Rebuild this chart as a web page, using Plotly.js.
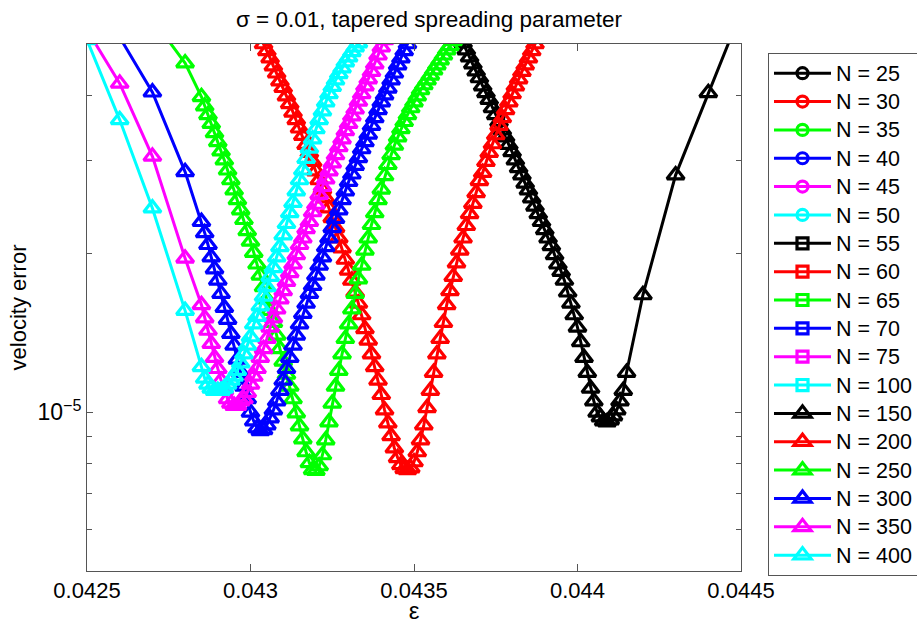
<!DOCTYPE html>
<html><head><meta charset="utf-8">
<script src="https://cdn.plot.ly/plotly-3.0.1.min.js"></script>
<style>html,body{margin:0;padding:0;background:#fff}#chart{width:917px;height:624px}</style>
</head><body><div id="chart"></div>
<script>
// epsilon sample grid (coarse + fine)
const epsGrid = [0.0425,0.0426,0.0427,0.0428,
0.04285,0.04286,0.04287,0.04288,0.04289,
0.0429,0.04291,0.04292,0.04293,0.04294,0.04295,0.04296,0.04297,0.04298,0.04299,
0.043,0.04301,0.04302,0.04303,0.04304,0.04305,0.04306,0.04307,0.04308,0.04309,
0.0431,0.04311,0.04312,0.04313,0.04314,0.04315,0.04316,0.04317,0.04318,0.04319,
0.0432,0.04321,0.04322,0.04323,0.04324,0.04325,0.04326,0.04327,0.04328,0.04329,
0.0433,0.04331,0.04332,0.04333,0.04334,0.04335,0.04336,0.04337,0.04338,0.04339,
0.0434,0.04341,0.04342,0.04343,0.04344,0.04345,0.04346,0.04347,0.04348,0.04349,
0.0435,0.04351,0.04352,0.04353,0.04354,0.04355,0.04356,0.04357,0.04358,0.04359,
0.0436,0.04361,0.04362,0.04363,0.04364,0.04365,0.04366,0.04367,0.04368,0.04369,
0.0437,0.04371,0.04372,0.04373,0.04374,0.04375,0.04376,0.04377,0.04378,0.04379,
0.0438,0.04381,0.04382,0.04383,0.04384,0.04385,0.04386,0.04387,0.04388,0.04389,
0.0439,0.04391,0.04392,0.04393,0.04394,0.04395,0.04396,0.04397,0.04398,0.04399,
0.044,0.04401,0.04402,0.04403,0.04404,0.04405,0.04406,0.04407,0.04408,0.04409,
0.0441,0.04411,0.04412,0.04413,0.04414,0.04415,
0.0442,0.0443,0.0444,0.0445];

const legendN = [25,30,35,40,45,50,55,60,65,70,75,100,150,200,250,300,350,400];
const seriesColors = ['#000000','#ff0000','#00ff00','#0000ff','#ff00ff','#00ffff'];

// N = 25 ... 100: no values inside the plotted window (legend only)
const errOffChart = [null];

// velocity error per N (first epsilon of each series given separately)
const start150 = 0.04364;
const err150 = [5.18e-5,5.02e-5,4.87e-5,4.72e-5,4.58e-5,4.44e-5,4.31e-5,4.16e-5,4.04e-5,3.92e-5,3.78e-5,3.67e-5,3.56e-5,3.43e-5,3.33e-5,3.22e-5,3.12e-5,3.01e-5,2.91e-5,2.82e-5,2.72e-5,
2.64e-5,2.55e-5,2.46e-5,2.38e-5,2.30e-5,2.22e-5,2.14e-5,2.07e-5,1.99e-5,1.91e-5,1.85e-5,1.78e-5,1.69e-5,1.61e-5,1.53e-5,1.45e-5,1.36e-5,1.27e-5,1.19e-5,1.11e-5,
1.05e-5,1.00e-5,0.979e-5,0.962e-5,0.958e-5,0.967e-5,0.984e-5,1.01e-5,1.05e-5,1.10e-5,1.19e-5,
1.67e-5,2.82e-5,4.04e-5,5.75e-5];

const start200 = 0.04303;
const err200 = [5.15e-5,5.00e-5,4.85e-5,4.70e-5,4.54e-5,4.40e-5,4.25e-5,4.13e-5,3.98e-5,3.85e-5,3.71e-5,3.59e-5,3.46e-5,3.35e-5,3.22e-5,3.11e-5,2.99e-5,2.87e-5,2.76e-5,2.65e-5,
2.55e-5,2.44e-5,2.34e-5,2.24e-5,2.14e-5,2.05e-5,1.95e-5,1.86e-5,1.78e-5,1.69e-5,1.61e-5,1.53e-5,1.44e-5,1.37e-5,1.29e-5,1.22e-5,1.15e-5,1.08e-5,1.01e-5,
0.954e-5,0.902e-5,0.855e-5,0.820e-5,0.795e-5,0.781e-5,0.778e-5,0.784e-5,0.805e-5,0.841e-5,0.886e-5,0.946e-5,
1.02e-5,1.10e-5,1.19e-5,1.29e-5,1.38e-5,1.48e-5,1.60e-5,1.70e-5,1.81e-5,1.92e-5,2.03e-5,2.14e-5,2.26e-5,2.38e-5,2.49e-5,2.61e-5,2.75e-5,2.85e-5,2.99e-5,
3.11e-5,3.23e-5,3.36e-5,3.50e-5,3.62e-5,3.75e-5,3.88e-5,4.02e-5,4.16e-5,4.29e-5,4.43e-5,4.56e-5,4.70e-5,4.85e-5,5.00e-5,5.15e-5];

const start250 = 0.0427;
const err250 = [5.58e-5,4.60e-5,
3.97e-5,3.81e-5,3.67e-5,3.53e-5,3.39e-5,3.26e-5,3.13e-5,3.01e-5,2.88e-5,2.76e-5,
2.64e-5,2.53e-5,2.42e-5,2.32e-5,2.21e-5,2.11e-5,2.01e-5,1.91e-5,1.82e-5,1.73e-5,
1.64e-5,1.56e-5,1.48e-5,1.40e-5,1.32e-5,1.25e-5,1.18e-5,1.12e-5,1.06e-5,0.997e-5,
0.942e-5,0.890e-5,0.841e-5,0.802e-5,0.778e-5,0.775e-5,0.791e-5,0.830e-5,0.886e-5,0.958e-5,
1.04e-5,1.12e-5,1.20e-5,1.29e-5,1.38e-5,1.47e-5,1.57e-5,1.68e-5,1.79e-5,1.90e-5,
2.03e-5,2.14e-5,2.27e-5,2.39e-5,2.53e-5,2.65e-5,2.81e-5,2.95e-5,3.08e-5,3.21e-5,
3.33e-5,3.45e-5,3.56e-5,3.67e-5,3.78e-5,3.88e-5,3.98e-5,4.09e-5,4.18e-5,4.27e-5,
4.36e-5,4.46e-5,4.56e-5,4.66e-5,4.76e-5,4.87e-5,4.96e-5,5.07e-5,5.18e-5];

const start300 = 0.0426;
const err300 = [5.15e-5,4.05e-5,2.86e-5,
2.30e-5,2.19e-5,2.08e-5,1.97e-5,1.87e-5,1.78e-5,1.68e-5,1.58e-5,1.50e-5,1.41e-5,
1.34e-5,1.26e-5,1.19e-5,1.12e-5,1.06e-5,1.00e-5,0.962e-5,0.934e-5,0.922e-5,0.926e-5,
0.946e-5,0.975e-5,1.01e-5,1.05e-5,1.10e-5,1.15e-5,1.21e-5,1.27e-5,1.34e-5,1.40e-5,
1.47e-5,1.54e-5,1.61e-5,1.68e-5,1.74e-5,1.82e-5,1.90e-5,1.97e-5,2.06e-5,2.14e-5,
2.24e-5,2.33e-5,2.42e-5,2.53e-5,2.63e-5,2.74e-5,2.83e-5,2.94e-5,3.04e-5,3.16e-5,
3.26e-5,3.37e-5,3.50e-5,3.62e-5,3.75e-5,3.88e-5,4.00e-5,4.12e-5,4.27e-5,4.40e-5,
4.56e-5,4.70e-5,4.85e-5,5.00e-5,5.15e-5];

const start350 = 0.0425;
const err350 = [5.32e-5,4.21e-5,3.06e-5,1.96e-5,
1.60e-5,1.51e-5,1.43e-5,1.35e-5,1.27e-5,1.21e-5,1.15e-5,1.10e-5,1.06e-5,1.04e-5,
1.03e-5,1.03e-5,1.05e-5,1.06e-5,1.09e-5,1.13e-5,1.17e-5,1.21e-5,1.27e-5,1.32e-5,
1.38e-5,1.45e-5,1.51e-5,1.57e-5,1.64e-5,1.70e-5,1.77e-5,1.84e-5,1.91e-5,1.99e-5,
2.08e-5,2.14e-5,2.23e-5,2.30e-5,2.40e-5,2.48e-5,2.59e-5,2.68e-5,2.77e-5,2.87e-5,
2.97e-5,3.08e-5,3.19e-5,3.30e-5,3.42e-5,3.53e-5,3.65e-5,3.76e-5,3.89e-5,4.02e-5,
4.16e-5,4.29e-5,4.43e-5,4.58e-5,4.76e-5,4.93e-5,5.09e-5];

const start400 = 0.0425;
const err400 = [5.09e-5,3.59e-5,2.44e-5,1.56e-5,
1.22e-5,1.16e-5,1.13e-5,1.11e-5,1.10e-5,1.10e-5,1.10e-5,1.11e-5,1.13e-5,1.15e-5,
1.17e-5,1.20e-5,1.24e-5,1.29e-5,1.34e-5,1.39e-5,1.47e-5,1.52e-5,1.59e-5,1.66e-5,
1.73e-5,1.81e-5,1.88e-5,1.97e-5,2.06e-5,2.17e-5,2.28e-5,2.39e-5,2.50e-5,2.63e-5,
2.76e-5,2.88e-5,3.03e-5,3.17e-5,3.30e-5,3.45e-5,3.59e-5,3.73e-5,3.88e-5,4.02e-5,
4.15e-5,4.27e-5,4.39e-5,4.50e-5,4.62e-5,4.72e-5,4.83e-5,4.93e-5,5.02e-5,5.13e-5];

const xTickVals = [0.0425,0.043,0.0435,0.044,0.0445];
const xTickText = ['0.0425','0.043','0.0435','0.044','0.0445'];
const yTickVals = [1e-5];
const yTickText = ['10<sup>−5</sup>'];
const yMinorVals = [5e-6,6e-6,7e-6,8e-6,9e-6,2e-5,3e-5,4e-5,5e-5];

const visibleData = {150:[start150,err150],200:[start200,err200],250:[start250,err250],300:[start300,err300],350:[start350,err350],400:[start400,err400]};

function epsFor(start, n){ const i = epsGrid.indexOf(start); return epsGrid.slice(i, i + n); }

const symbols = ['circle-open','square-open','triangle-up-open'];
const traces = legendN.map((N, i) => {
  const color = seriesColors[i % 6];
  const sym = symbols[Math.floor(i / 6)];
  let x, y;
  if (visibleData[N]) { y = visibleData[N][1]; x = epsFor(visibleData[N][0], y.length); }
  else { y = errOffChart; x = epsGrid.slice(0, errOffChart.length); }
  return {
    type: 'scatter', mode: 'lines+markers',
    name: '<span style="font-size:21.5px">N = ' + N + '</span>',
    x: x, y: y, cliponaxis: true,
    line: {color: color, width: 3},
    marker: {symbol: sym, size: (sym === 'triangle-up-open' ? 15 : 11), color: color, line: {color: color, width: 3.2}}
  };
});

const axisColor = '#555555';
const layout = {
  width: 917, height: 624,
  margin: {l: 87, r: 176, t: 44, b: 53, autoexpand: false},
  paper_bgcolor: '#ffffff', plot_bgcolor: '#ffffff',
  font: {family: 'Liberation Sans, Arial, sans-serif', size: 22, color: '#000'},
  title: {text: 'σ = 0.01, tapered spreading parameter', x: (429-87)/654, xref: 'paper', xanchor: 'center',
          y: 1 - 19/624, yref: 'container', yanchor: 'middle', font: {size: 22.5}},
  xaxis: {range: [0.0425, 0.0445], tickmode: 'array', tickvals: xTickVals, ticktext: xTickText,
          ticks: 'inside', ticklen: 7, tickcolor: axisColor, showline: true, linecolor: axisColor, linewidth: 1,
          mirror: 'ticks', showgrid: false, zeroline: false, tickfont: {size: 22},
          title: {text: 'ε', font: {size: 24}}},
  yaxis: {type: 'log', range: [Math.log10(5e-6), Math.log10(5e-5)], tickmode: 'array', tickvals: yTickVals, ticktext: yTickText,
          ticks: 'inside', ticklen: 6, tickcolor: axisColor, showline: true, linecolor: axisColor, linewidth: 1,
          mirror: 'ticks', showgrid: false, zeroline: false, tickfont: {size: 23},
          minor: {tickmode: 'array', tickvals: yMinorVals, ticks: 'inside', ticklen: 5, tickcolor: axisColor, showgrid: false},
          title: {text: 'velocity error', standoff: 4, font: {size: 22}}},
  showlegend: true,
  legend: {x: (768-87)/654, xref: 'paper', xanchor: 'left', y: (571-53)/527, yref: 'paper', yanchor: 'top',
           bordercolor: axisColor, borderwidth: 1, bgcolor: '#ffffff', font: {size: 19.5},
           itemwidth: 57, traceorder: 'normal'}
};

Plotly.newPlot('chart', traces, layout, {displayModeBar: false, staticPlot: true});
</script>
</body></html>
